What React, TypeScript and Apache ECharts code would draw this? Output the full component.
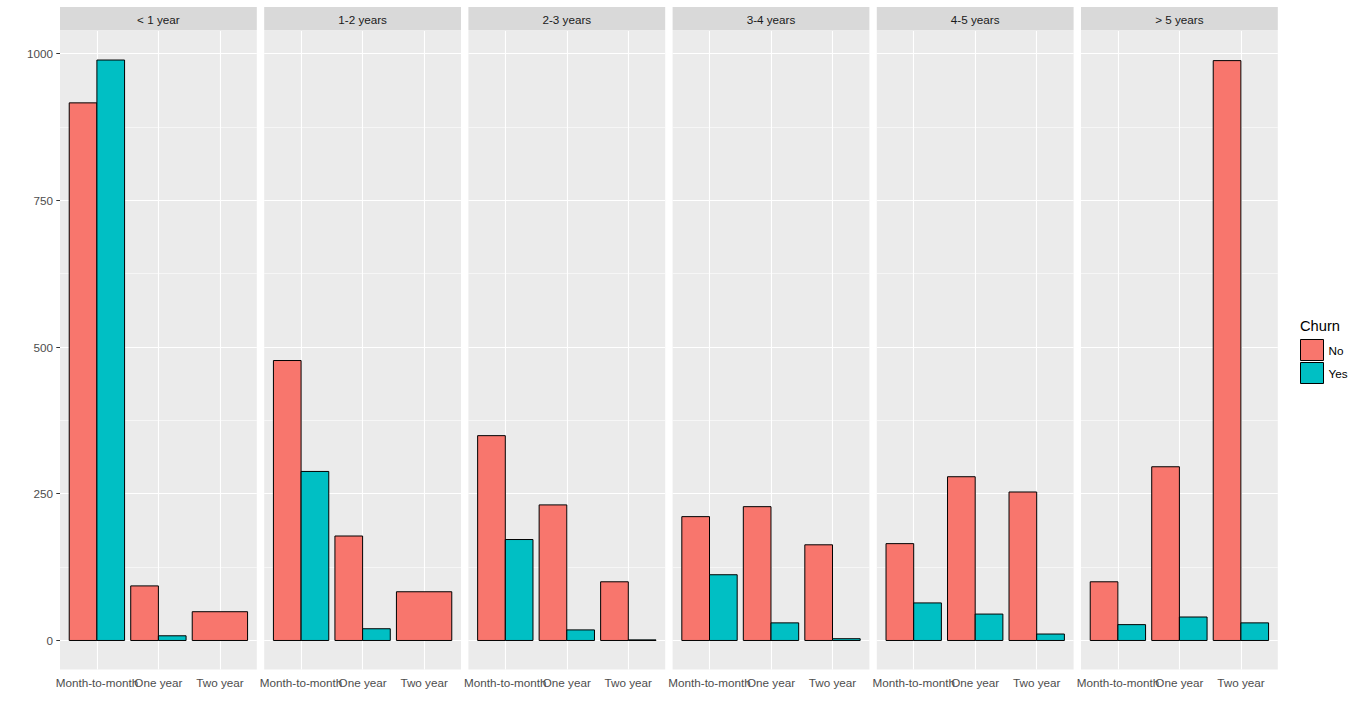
import React, { useEffect, useRef } from 'react';
import * as echarts from 'echarts';

const tenureGroups = ['< 1 year', '1-2 years', '2-3 years', '3-4 years', '4-5 years', '> 5 years'];
const contracts = ['Month-to-month', 'One year', 'Two year'];
const churnLevels = ['No', 'Yes'];
// counts per tenure group, in contract order
const churnNo: number[][] = [
  [916, 93, 49],
  [477, 178, 83],
  [349, 231, 100],
  [211, 228, 163],
  [165, 279, 253],
  [100, 296, 988],
];
const churnYes: (number | null)[][] = [
  [989, 8, null],
  [288, 20, null],
  [172, 18, 1],
  [112, 30, 3],
  [64, 45, 11],
  [27, 40, 30],
];
const yTicks = [0, 250, 500, 750, 1000];
const yMinorTicks = [125, 375, 625, 875];

const colors: Record<string, string> = { No: '#F8766D', Yes: '#00BFC4' };
const FONT = 'Liberation Sans, Arial, sans-serif';

export default function App() {
  const ref = useRef<HTMLDivElement>(null);
  useEffect(() => {
    if (!ref.current) return;
    const chart = echarts.init(ref.current, undefined, { renderer: 'svg' });

    const allVals: number[] = [];
    churnNo.forEach((r) => r.forEach((v) => allVals.push(v)));
    churnYes.forEach((r) => r.forEach((v) => v != null && allVals.push(v)));
    const maxV = Math.max(...allVals);
    const yMin = -0.05 * maxV;
    const yMax = 1.05 * maxV;

    const left0 = 60;
    const panelW = 196.8;
    const gap = 7.4;
    const top = 31;
    const height = 638.5;

    const grids: any[] = [];
    const xAxes: any[] = [];
    const yAxes: any[] = [];
    const series: any[] = [];
    const graphics: any[] = [];

    const labelStyle = {
      margin: 7, color: '#4D4D4D', fontSize: 11.7, fontFamily: FONT,
      hideOverlap: false, showMinLabel: true, showMaxLabel: true,
      formatter: (v: number) => contracts[Math.round(v) - 1] ?? '',
    };

    tenureGroups.forEach((g, gi) => {
      const left = left0 + gi * (panelW + gap);
      grids.push({
        left, top, width: panelW, height,
        show: true, backgroundColor: '#EBEBEB', borderWidth: 0, containLabel: false,
      });
      const mainX = xAxes.length;
      // main axis: ticks at every contract, labels at the outer two
      xAxes.push({
        type: 'value', gridIndex: gi, min: 0.4, max: 3.6, position: 'bottom',
        axisLine: { show: false },
        splitLine: { show: false },
        axisTick: { show: true, customValues: [1, 2, 3], length: 3.7, lineStyle: { color: '#333333', width: 1 } },
        axisLabel: { ...labelStyle, customValues: [1, 3] },
      });
      // overlay axis carrying the middle label (ggplot draws overlapping labels)
      xAxes.push({
        type: 'value', gridIndex: gi, min: 0.4, max: 3.6, position: 'bottom', offset: 0,
        axisLine: { show: false },
        splitLine: { show: false },
        axisTick: { show: false },
        axisLabel: { ...labelStyle, customValues: [2] },
      });
      yAxes.push({
        type: 'value', gridIndex: gi, min: yMin, max: yMax, show: gi === 0,
        axisLine: { show: false },
        splitLine: { show: false },
        axisTick: { show: gi === 0, customValues: yTicks, length: 3.7, lineStyle: { color: '#333333', width: 1 } },
        axisLabel: {
          show: gi === 0, customValues: yTicks, margin: 7,
          formatter: (v: number) => String(Math.round(v)),
          color: '#4D4D4D', fontSize: 11.7, fontFamily: FONT,
          showMinLabel: true, showMaxLabel: true,
        },
      });

      const noRow = churnNo[gi];
      const yesRow = churnYes[gi];

      const makeRender = (level: string) => (params: any, api: any) => {
        const cat = api.value(0);
        const val = api.value(1);
        const idx = cat - 1;
        let off: number;
        let w: number;
        if (level === 'No') {
          if (yesRow[idx] == null) { off = 0; w = 0.9; } else { off = -0.225; w = 0.45; }
        } else { off = 0.225; w = 0.45; }
        const p0 = api.coord([cat + off - w / 2, val]);
        const p1 = api.coord([cat + off + w / 2, 0]);
        return {
          type: 'rect',
          shape: { x: p0[0], y: p0[1], width: p1[0] - p0[0], height: p1[1] - p0[1] },
          style: { fill: colors[level], stroke: '#000000', lineWidth: 1 },
        };
      };

      const gridLine = (w: number) => ({ color: '#FFFFFF', width: w, type: 'solid' });

      series.push({
        type: 'custom', name: 'No', xAxisIndex: mainX, yAxisIndex: gi,
        itemStyle: { color: colors.No, borderColor: '#000', borderWidth: 1 },
        renderItem: makeRender('No'),
        data: noRow.map((v, i) => [i + 1, v]),
        z: 2,
        markLine: {
          silent: true, symbol: ['none', 'none'], z: 1, animation: false,
          label: { show: false },
          emphasis: { disabled: true },
          data: [
            ...yMinorTicks.map((v) => ({ yAxis: v, lineStyle: gridLine(0.55) })),
            ...yTicks.map((v) => ({ yAxis: v, lineStyle: gridLine(1.1) })),
            ...[1, 2, 3].map((v) => ({ xAxis: v, lineStyle: gridLine(1.1) })),
          ],
        },
      });
      series.push({
        type: 'custom', name: 'Yes', xAxisIndex: mainX, yAxisIndex: gi,
        itemStyle: { color: colors.Yes, borderColor: '#000', borderWidth: 1 },
        renderItem: makeRender('Yes'),
        data: yesRow
          .map((v, i) => (v == null ? null : [i + 1, v]))
          .filter((d) => d != null),
        z: 2,
      });

      graphics.push({
        type: 'rect', left, top: 7,
        shape: { width: panelW, height: 23.5 },
        style: { fill: '#D9D9D9' },
      });
      graphics.push({
        type: 'text', x: left + panelW / 2, y: 19.5,
        style: {
          text: g, fill: '#1A1A1A', fontSize: 11.7, fontFamily: FONT,
          textAlign: 'center', textVerticalAlign: 'middle',
        },
      });
    });

    graphics.push({
      type: 'text', x: 1300, y: 326,
      style: {
        text: 'Churn', fill: '#000000', fontSize: 14.7, fontFamily: FONT,
        textAlign: 'left', textVerticalAlign: 'middle',
      },
    });

    chart.setOption({
      animation: false,
      grid: grids,
      xAxis: xAxes,
      yAxis: yAxes,
      series,
      graphic: graphics,
      legend: {
        data: churnLevels,
        orient: 'vertical',
        left: 1300,
        top: 339,
        padding: 0,
        itemWidth: 23,
        itemHeight: 21,
        itemGap: 1,
        icon: 'rect',
        itemStyle: { borderColor: '#000', borderWidth: 1 },
        textStyle: { fontSize: 11.7, color: '#000', fontFamily: FONT },
        selectedMode: false,
      },
    });

    return () => chart.dispose();
  }, []);

  return (
    <div
      ref={ref}
      style={{ position: 'fixed', left: 0, top: 0, width: 1366, height: 715, background: '#fff' }}
    />
  );
}
